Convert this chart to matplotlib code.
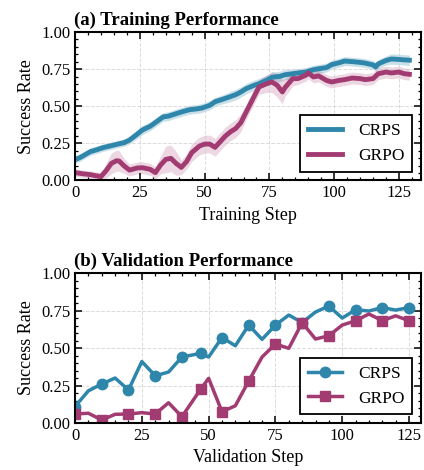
import numpy as np
import matplotlib
matplotlib.use("Agg")
import matplotlib.pyplot as plt
from matplotlib.ticker import MultipleLocator

plt.rcParams["font.family"] = ["Liberation Serif", "DejaVu Serif"]
plt.rcParams["mathtext.fontset"] = "stix"

# Training curves
crps_train_steps = [0, 2, 3, 5, 6, 8, 11, 13, 16, 19, 21, 24, 26, 29, 31, 34, 36, 39, 42, 44,
                    47, 49, 52, 54, 57, 60, 62, 64, 66, 69, 71, 74, 76, 79, 81, 84, 86, 89, 92,
                    94, 97, 99, 102, 104, 107, 110, 112, 115, 116, 117, 120, 122, 125, 127, 129]
crps_train = [0.14, 0.155, 0.165, 0.185, 0.195, 0.205, 0.222, 0.23, 0.243, 0.255, 0.272, 0.312,
              0.34, 0.365, 0.39, 0.428, 0.433, 0.45, 0.466, 0.476, 0.482, 0.488, 0.506, 0.53,
              0.547, 0.565, 0.578, 0.596, 0.618, 0.64, 0.652, 0.675, 0.695, 0.701, 0.712, 0.719,
              0.724, 0.73, 0.746, 0.752, 0.76, 0.78, 0.793, 0.804, 0.80, 0.795, 0.79, 0.778,
              0.764, 0.785, 0.808, 0.818, 0.815, 0.812, 0.81]
crps_band = [0.025, 0.025, 0.025, 0.025, 0.025, 0.025, 0.025, 0.025, 0.025, 0.025, 0.025, 0.03,
             0.03, 0.03, 0.03, 0.03, 0.03, 0.03, 0.03, 0.03, 0.03, 0.03, 0.03, 0.03,
             0.03, 0.035, 0.035, 0.035, 0.035, 0.035, 0.035, 0.035, 0.035, 0.035, 0.035, 0.03,
             0.03, 0.03, 0.03, 0.03, 0.03, 0.03, 0.03, 0.03, 0.03, 0.03, 0.03, 0.03,
             0.03, 0.03, 0.03, 0.035, 0.035, 0.035, 0.035]

grpo_train_steps = [0, 3, 6, 8, 10, 12, 14, 16, 17, 19, 21, 24, 26, 29, 31, 33, 35, 37, 39, 41,
                    43, 45, 48, 50, 52, 54, 56, 58, 60, 62, 64, 66, 69, 71, 74, 76, 78, 80, 81,
                    84, 86, 89, 90, 92, 94, 97, 99, 102, 104, 107, 110, 112, 115, 117, 120, 122,
                    125, 127, 129]
grpo_train = [0.053, 0.045, 0.039, 0.032, 0.026, 0.066, 0.115, 0.133, 0.131, 0.097, 0.07, 0.084,
              0.086, 0.075, 0.053, 0.104, 0.142, 0.149, 0.115, 0.088, 0.126, 0.187, 0.232, 0.245,
              0.245, 0.223, 0.261, 0.299, 0.328, 0.35, 0.39, 0.46, 0.563, 0.63, 0.652, 0.663,
              0.641, 0.596, 0.625, 0.686, 0.686, 0.708, 0.724, 0.697, 0.704, 0.674, 0.663, 0.674,
              0.679, 0.69, 0.686, 0.679, 0.686, 0.719, 0.73, 0.724, 0.73, 0.719, 0.715]
grpo_band = [0.025, 0.025, 0.025, 0.025, 0.03, 0.05, 0.07, 0.07, 0.07, 0.05, 0.04, 0.04,
             0.04, 0.04, 0.04, 0.06, 0.09, 0.09, 0.08, 0.05, 0.05, 0.06, 0.06, 0.06,
             0.06, 0.06, 0.06, 0.06, 0.06, 0.06, 0.06, 0.05, 0.05, 0.05, 0.06, 0.07,
             0.08, 0.08, 0.06, 0.05, 0.04, 0.04, 0.04, 0.04, 0.04, 0.04, 0.04, 0.04,
             0.04, 0.04, 0.04, 0.04, 0.04, 0.04, 0.04, 0.04, 0.04, 0.04, 0.04]

# Validation curves
val_steps = [0, 5, 10, 15, 20, 25, 30, 35, 40, 47, 50, 55, 60, 65, 70, 75, 80, 85, 90, 95,
             100, 105, 110, 115, 120, 125]
crps_val = [0.11, 0.215, 0.26, 0.30, 0.22, 0.41, 0.315, 0.34, 0.44, 0.465, 0.44, 0.57, 0.515,
            0.653, 0.558, 0.653, 0.72, 0.67, 0.74, 0.78, 0.70, 0.755, 0.747, 0.77, 0.753, 0.77]
grpo_val = [0.06, 0.065, 0.02, 0.058, 0.06, 0.069, 0.06, 0.135, 0.042, 0.225, 0.298, 0.075,
            0.115, 0.28, 0.44, 0.527, 0.498, 0.669, 0.56, 0.582, 0.653, 0.682, 0.727, 0.682,
            0.715, 0.682]
val_markers = [0, 2, 4, 6, 8, 9, 11, 13, 15, 17, 19, 21, 23, 25]

blue = "#2E86AB"
plum = "#A23B72"

fig = plt.figure(figsize=(4.24, 4.70), dpi=100)
ax1 = fig.add_axes([0.177, 0.616, 0.816, 0.316])
ax2 = fig.add_axes([0.177, 0.100, 0.816, 0.319])


def style_axis(ax, xmax):
    ax.set_xlim(0, xmax)
    ax.set_ylim(0, 1)
    ax.xaxis.set_major_locator(MultipleLocator(25))
    ax.xaxis.set_minor_locator(MultipleLocator(5))
    ax.yaxis.set_major_locator(MultipleLocator(0.25))
    ax.yaxis.set_minor_locator(MultipleLocator(0.05))
    ax.tick_params(which="both", direction="in", top=True, right=True, labelsize=12)
    ax.tick_params(which="major", length=5, width=1.1)
    ax.tick_params(which="minor", length=2.5, width=0.9)
    ax.grid(True, which="major", linestyle="--", color="#cccccc", linewidth=0.7, alpha=0.7)
    for s in ax.spines.values():
        s.set_linewidth(1.5)
    ax.set_ylabel("Success Rate", fontsize=13)


def add_legend(ax):
    leg = ax.legend(loc="lower right", fontsize=12.5, fancybox=False, framealpha=1,
                    edgecolor="black", handlelength=2.0, handletextpad=0.9,
                    borderpad=0.45, borderaxespad=0.5)
    leg.get_frame().set_linewidth(1.3)


# (a) training
c = np.array(crps_train)
g = np.array(grpo_train)
ax1.fill_between(crps_train_steps, c - np.array(crps_band), c + np.array(crps_band),
                 color=blue, alpha=0.25, linewidth=0)
ax1.fill_between(grpo_train_steps, g - np.array(grpo_band), g + np.array(grpo_band),
                 color=plum, alpha=0.2, linewidth=0)
ax1.plot(crps_train_steps, crps_train, color=blue, lw=3.5, label="CRPS")
ax1.plot(grpo_train_steps, grpo_train, color=plum, lw=3.5, label="GRPO")
style_axis(ax1, 133.5)
ax1.set_xlabel("Training Step", fontsize=13)
ax1.set_title("(a) Training Performance", fontsize=13.5, fontweight="bold", loc="left",
              x=-0.002, pad=5)
add_legend(ax1)

# (b) validation
ax2.plot(val_steps, crps_val, color=blue, lw=2.5, marker="o", markersize=7.5,
         markevery=val_markers, label="CRPS")
ax2.plot(val_steps, grpo_val, color=plum, lw=2.5, marker="s", markersize=7.5,
         markevery=val_markers, label="GRPO")
style_axis(ax2, 129.5)
ax2.set_xlabel("Validation Step", fontsize=13)
ax2.set_title("(b) Validation Performance", fontsize=13.5, fontweight="bold", loc="left",
              x=-0.002, pad=5)
add_legend(ax2)

fig.savefig("out.png", dpi=100)
